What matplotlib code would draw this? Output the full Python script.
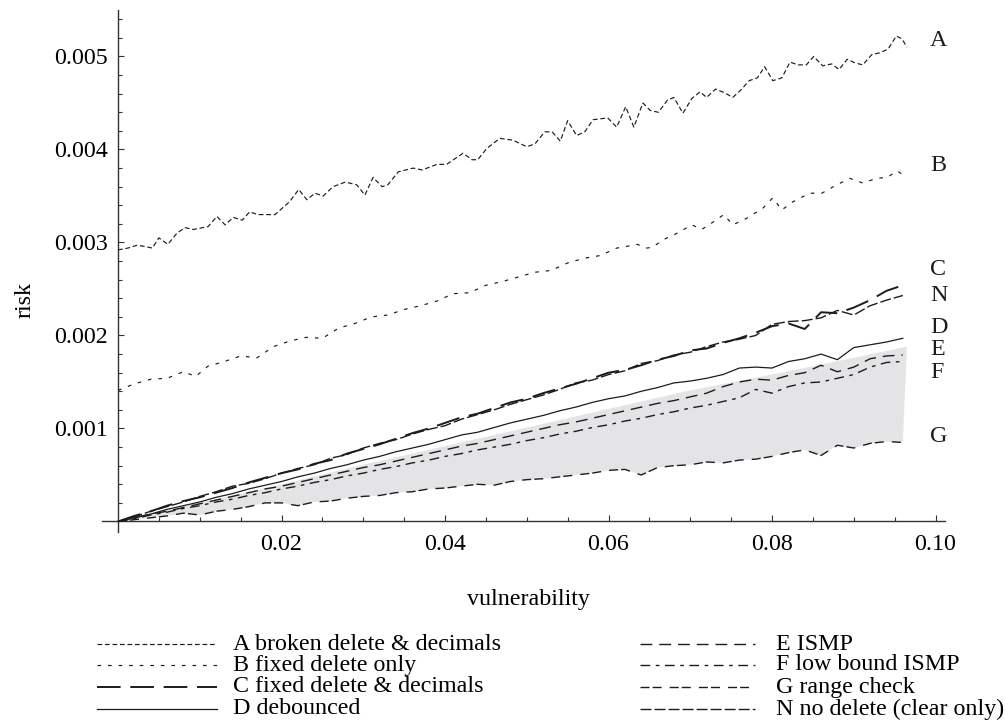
import numpy as np
import matplotlib
matplotlib.use("Agg")
import matplotlib.pyplot as plt
from matplotlib.lines import Line2D

# values (vulnerability -> risk)
a_x = [0, .0012, .0023, .0031, .0042, .0050, .0061, .0072, .0082, .0092,
       .0110, .0121, .0131, .0141, .0152, .0161, .0171, .0192, .0210, .0221,
       .0231, .0241, .0251, .0263, .0278, .0292, .0302, .0312, .0323, .0330,
       .0343, .0361, .0372, .0390, .0402, .0422, .0433, .0440, .0451, .0467,
       .0483, .0500, .0510, .0522, .0531, .0541, .0550, .0561, .0571, .0581,
       .0599, .0610, .0621, .0631, .0642, .0651, .0661, .0672, .0680, .0691,
       .0702, .0712, .0720, .0731, .0742, .0752, .0762, .0772, .0782, .0791,
       .0801, .0812, .0822, .0832, .0842, .0851, .0862, .0873, .0882, .0892,
       .0902, .0911, .0922, .0932, .0942, .0952, .0959, .0965]
a_y = [0.00292, 0.00294, 0.00297, 0.00296, 0.00294, 0.00305, 0.00298, 0.0031, 0.00316, 0.00314,
       0.00317, 0.00328, 0.00319, 0.00327, 0.00324, 0.00333, 0.0033, 0.0033, 0.00344, 0.00357,
       0.00346, 0.00353, 0.0035, 0.0036, 0.00365, 0.00362, 0.00351, 0.0037, 0.0036, 0.00362,
       0.00376, 0.0038, 0.00378, 0.00384, 0.00384, 0.00396, 0.00389, 0.00389, 0.00401, 0.00412,
       0.0041, 0.00403, 0.00406, 0.00419, 0.00419, 0.00409, 0.00431, 0.00415, 0.00419, 0.00432,
       0.00434, 0.00424, 0.00446, 0.00424, 0.0045, 0.00442, 0.0044, 0.00453, 0.00456, 0.00439,
       0.00455, 0.00462, 0.00456, 0.00465, 0.00461, 0.00456, 0.00464, 0.00474, 0.00477, 0.00489,
       0.00474, 0.00477, 0.00494, 0.00491, 0.00491, 0.005, 0.0049, 0.00492, 0.00486, 0.00497,
       0.00493, 0.00491, 0.00502, 0.00504, 0.00508, 0.00522, 0.00519, 0.0051]

b_x = [0, .002, .004, .006, .008, .0095, .011, .013, .015, .017,
       .019, .021, .023, .025, .027, .029, .031, .033, .035, .037,
       .039, .041, .043, .045, .047, .049, .051, .053, .055, .057,
       .059, .0610, .0623, .0635, .0647, .0654, .0667, .0684, .0702, .0714,
       .0728, .0741, .0752, .0769, .0789, .0801, .0812, .0826, .0846, .0861,
       .0875, .0895, .0911, .0928, .0941, .0953, .0965]
b_y = [0.00141, 0.00148, 0.00153, 0.00154, 0.00161, 0.00156, 0.00167, 0.00172, 0.00178, 0.00176,
       0.00188, 0.00194, 0.00198, 0.00197, 0.00208, 0.00213, 0.0022, 0.00222, 0.00228, 0.00232,
       0.00237, 0.00245, 0.00246, 0.00254, 0.00258, 0.00263, 0.00268, 0.0027, 0.00278, 0.00283,
       0.00286, 0.00294, 0.00296, 0.00298, 0.00294, 0.00295, 0.00303, 0.0031, 0.00319, 0.00314,
       0.00322, 0.0033, 0.00319, 0.00326, 0.00337, 0.00348, 0.00335, 0.00344, 0.00353, 0.00353,
       0.0036, 0.00369, 0.00364, 0.00369, 0.0037, 0.00377, 0.0037]

# the lower curves are sampled every 0.002
c_y = [0, 0.00006, 0.00011, 0.00017, 0.00022, 0.00026, 0.00031, 0.00036, 0.00042, 0.00047,
       0.00052, 0.00056, 0.00062, 0.00066, 0.00073, 0.00078, 0.00083, 0.00089, 0.00095, 0.00100,
       0.00106, 0.00112, 0.00116, 0.00122, 0.00128, 0.00132, 0.00138, 0.00143, 0.00148, 0.00154,
       0.00160, 0.00163, 0.00168, 0.00174, 0.00178, 0.00184, 0.00186, 0.00192, 0.00197, 0.00203,
       0.00210, 0.00213, 0.00207, 0.00225, 0.00224, 0.00230, 0.00238, 0.00248, 0.00254]
n_y = [0, 0.00005, 0.00011, 0.00016, 0.00021, 0.00027, 0.00032, 0.00038, 0.00041, 0.00046,
       0.00052, 0.00057, 0.00061, 0.00068, 0.00072, 0.00079, 0.00084, 0.00088, 0.00094, 0.00099,
       0.00103, 0.00110, 0.00115, 0.00120, 0.00126, 0.00131, 0.00136, 0.00142, 0.00149, 0.00152,
       0.00158, 0.00162, 0.00170, 0.00173, 0.00179, 0.00182, 0.00188, 0.00193, 0.00196, 0.00200,
       0.00212, 0.00215, 0.00216, 0.00219, 0.00227, 0.00222, 0.00232, 0.00238, 0.00243]
d_y = [0, 0.00004, 0.00008, 0.00013, 0.00017, 0.00021, 0.00026, 0.00030, 0.00035, 0.00039,
       0.00043, 0.00048, 0.00052, 0.00057, 0.00061, 0.00066, 0.00070, 0.00075, 0.00079, 0.00083,
       0.00088, 0.00093, 0.00096, 0.00101, 0.00106, 0.00110, 0.00114, 0.00119, 0.00123, 0.00128,
       0.00132, 0.00135, 0.00140, 0.00144, 0.00149, 0.00151, 0.00154, 0.00158, 0.00165, 0.00166,
       0.00165, 0.00172, 0.00175, 0.00180, 0.00174, 0.00187, 0.00190, 0.00193, 0.00197]
e_y = [0, 0.00004, 0.00008, 0.00011, 0.00015, 0.00019, 0.00023, 0.00027, 0.00031, 0.00035,
       0.00038, 0.00042, 0.00046, 0.00050, 0.00054, 0.00058, 0.00061, 0.00065, 0.00069, 0.00073,
       0.00077, 0.00081, 0.00084, 0.00088, 0.00092, 0.00096, 0.00100, 0.00104, 0.00107, 0.00111,
       0.00115, 0.00119, 0.00123, 0.00127, 0.00130, 0.00134, 0.00138, 0.00145, 0.00150, 0.00153,
       0.00152, 0.00157, 0.00160, 0.00168, 0.00161, 0.00166, 0.00175, 0.00178, 0.00179]
f_y = [0, 0.00003, 0.00007, 0.00010, 0.00014, 0.00017, 0.00021, 0.00024, 0.00028, 0.00031,
       0.00035, 0.00038, 0.00042, 0.00045, 0.00049, 0.00052, 0.00056, 0.00059, 0.00063, 0.00066,
       0.00070, 0.00073, 0.00077, 0.00080, 0.00083, 0.00087, 0.00090, 0.00094, 0.00097, 0.00101,
       0.00104, 0.00108, 0.00111, 0.00115, 0.00118, 0.00122, 0.00125, 0.00129, 0.00133, 0.00142,
       0.00138, 0.00145, 0.00149, 0.00150, 0.00154, 0.00158, 0.00166, 0.00171, 0.00172]
g_y = [0, 0.00002, 0.00004, 0.00006, 0.00009, 0.00007, 0.00011, 0.00013, 0.00016, 0.00020,
       0.00020, 0.00017, 0.00021, 0.00022, 0.00025, 0.00027, 0.00028, 0.00031, 0.00032, 0.00035,
       0.00036, 0.00038, 0.00040, 0.00039, 0.00043, 0.00045, 0.00046, 0.00048, 0.00050, 0.00052,
       0.00055, 0.00056, 0.00050, 0.00058, 0.00060, 0.00061, 0.00064, 0.00063, 0.00066, 0.00067,
       0.00070, 0.00074, 0.00077, 0.00071, 0.00082, 0.00079, 0.00084, 0.00086, 0.00085]

# upper edge of the grey band
band_x = [0, 0.01, 0.02, 0.03, 0.04, 0.05, 0.06, 0.07, 0.08, 0.09, 0.0965]
band_y = [0, 0.0002, 0.0004, 0.00061, 0.00081, 0.00101, 0.00121, 0.00141, 0.00158, 0.00176, 0.00188]

legend_labels = ["A broken delete & decimals", "B fixed delete only",
                 "C fixed delete & decimals", "D debounced",
                 "E ISMP", "F low bound ISMP", "G range check",
                 "N no delete (clear only)"]
curve_letters = ["A", "B", "C", "N", "D", "E", "F", "G"]
letter_y = [0.00517, 0.003825, 0.002715, 0.002425, 0.00209, 0.001845, 0.0016, 0.000909]

x_ticks = [0.02, 0.04, 0.06, 0.08, 0.10]
x_ticklabels = ["0.02", "0.04", "0.06", "0.08", "0.10"]
y_ticks = [0.001, 0.002, 0.003, 0.004, 0.005]
y_ticklabels = ["0.001", "0.002", "0.003", "0.004", "0.005"]


def main():
    plt.rcParams['font.family'] = ['Liberation Serif', 'DejaVu Serif']
    plt.rcParams['font.size'] = 17.3
    plt.rcParams['lines.scale_dashes'] = False

    ink = '#1c1c1c'
    styles = {
        'A': dict(ls=(0, (3.4, 2.0)), lw=0.85),
        'B': dict(ls=(0, (2.6, 5.0)), lw=0.85),
        'C': dict(ls=(0, (17, 7)), lw=1.4),
        'D': dict(ls='-', lw=0.9),
        'E': dict(ls=(0, (8.5, 5.0)), lw=1.0),
        'F': dict(ls=(0, (7.0, 4.0, 2.6, 4.0)), lw=1.0),
        'G': dict(ls=(0, (6.5, 2.2, 6.5, 5.8)), lw=1.0),
        'N': dict(ls=(0, (7.9, 2.2)), lw=1.0),
    }

    fig = plt.figure(figsize=(10.05, 7.24), dpi=100, facecolor='w')
    W, H = 1005.0, 724.0
    ax = fig.add_axes([102 / W, 1 - 532 / H, (945 - 102) / W, (532 - 10) / H])

    grid = np.arange(len(c_y)) * 0.002

    # grey band between G and the band edge
    ax.fill(np.r_[grid, band_x[::-1]], np.r_[g_y, band_y[::-1]],
            color='#e4e4e6', lw=0, zorder=1)

    ax.plot(a_x, a_y, color=ink, zorder=3, **styles['A'])
    ax.plot(b_x, b_y, color=ink, zorder=3, **styles['B'])
    ax.plot(grid, c_y, color=ink, zorder=3, **styles['C'])
    ax.plot(grid, n_y, color=ink, zorder=3, **styles['N'])
    ax.plot(grid, d_y, color=ink, zorder=3, **styles['D'])
    ax.plot(grid, e_y, color=ink, zorder=3, **styles['E'])
    ax.plot(grid, f_y, color=ink, zorder=3, **styles['F'])
    ax.plot(grid, g_y, color=ink, zorder=3, **styles['G'])

    # letters at the right end of each curve
    for letter, yy in zip(curve_letters, letter_y):
        ax.text(0.0993, yy, letter, ha='left', va='center', color=ink, clip_on=False)

    ax.set_xlim(-0.00196, 0.10116)
    ax.set_ylim(-0.000113, 0.0055)

    # axes crossing at the origin
    for side in ['top', 'right']:
        ax.spines[side].set_visible(False)
    ax.spines['left'].set_position(('data', 0))
    ax.spines['bottom'].set_position(('data', 0))
    for side in ['left', 'bottom']:
        ax.spines[side].set_linewidth(1.0)
        ax.spines[side].set_color('#333333')

    ax.set_xticks(x_ticks)
    ax.set_xticklabels(x_ticklabels)
    ax.set_xticks(np.arange(0.005, 0.1001, 0.005), minor=True)
    ax.set_yticks(y_ticks)
    ax.set_yticklabels(y_ticklabels)
    ax.set_yticks(np.arange(0.0002, 0.00541, 0.0002), minor=True)
    ax.tick_params(which='both', direction='in', color='#333333', width=0.8)
    ax.tick_params(which='major', length=4.5)
    ax.tick_params(which='minor', length=2.6)
    ax.tick_params(axis='x', which='major', pad=9, labelsize=17.3)
    ax.tick_params(axis='y', which='major', pad=7, labelsize=17.3)

    fig.text(528 / W, 1 - 599 / H, 'vulnerability', ha='center', va='center')
    fig.text(25 / W, 1 - 300 / H, 'risk', ha='center', va='center', rotation=90)

    # legend, two columns under the plot
    rows = [644, 665, 687, 709]
    cols = [(97, 217, 233), (640, 755, 776)]
    keys = ['A', 'B', 'C', 'D', 'E', 'F', 'G', 'N']
    for k, (key, label) in enumerate(zip(keys, legend_labels)):
        x0, x1, xt = cols[k // 4]
        yy = 1 - rows[k % 4] / H
        fig.add_artist(Line2D([x0 / W, x1 / W], [yy, yy], color=ink,
                              transform=fig.transFigure, **styles[key]))
        fig.text(xt / W, yy, label, ha='left', va='center')

    plt.savefig('out.png', dpi=100)


if __name__ == '__main__':
    main()
